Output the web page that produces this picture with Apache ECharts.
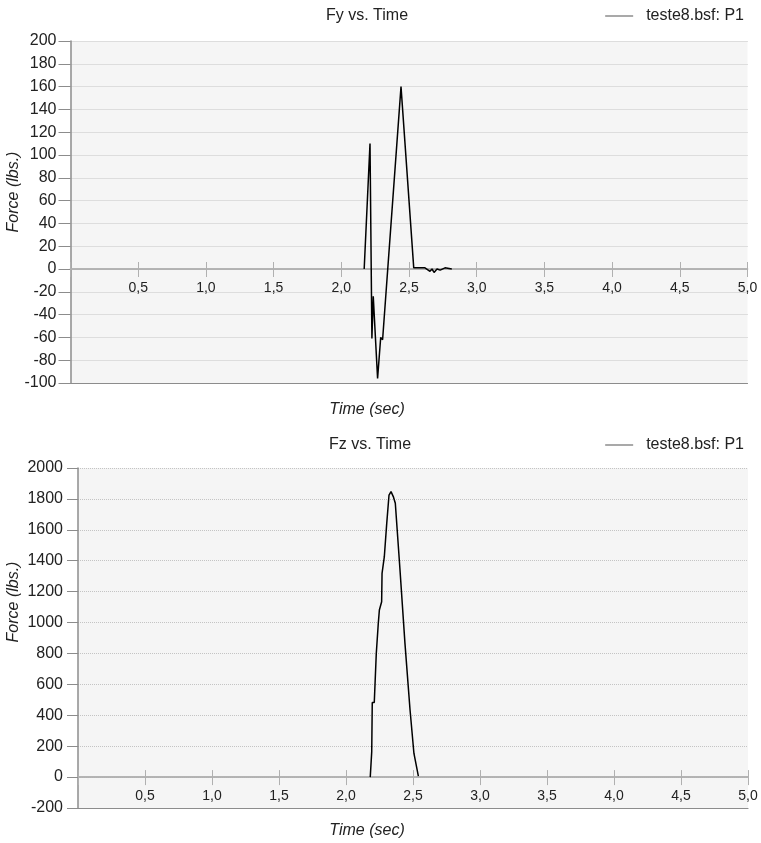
<!DOCTYPE html>
<html>
<head>
<meta charset="utf-8">
<script src="https://cdn.jsdelivr.net/npm/echarts@6/dist/echarts.min.js"></script>
<style>
  html, body { margin: 0; padding: 0; background: #fff; }
  #chart { width: 761px; height: 843px; }
</style>
</head>
<body>
<div id="chart"></div>
<script>
// Fy vs. Time (seconds, lbs.)
const fyTime = [2.169, 2.212, 2.226, 2.236, 2.268, 2.291, 2.305, 2.441, 2.535, 2.618, 2.655, 2.670, 2.685, 2.707, 2.730, 2.766, 2.816];
const fyForce = [0, 110, -61, -24, -96, -60, -62, 160, 1, 1, -2, 0, -3, 0, -1, 1, 0];

// Fz vs. Time
const fzTime = [2.181, 2.192, 2.196, 2.211, 2.226, 2.241, 2.249, 2.266, 2.269, 2.286, 2.304, 2.321, 2.336, 2.353, 2.368, 2.403, 2.440, 2.478, 2.507, 2.540];
const fzForce = [0, 164, 483, 483, 800, 995, 1081, 1135, 1318, 1426, 1642, 1825, 1847, 1815, 1772, 1340, 865, 434, 153, 6];

// axis ranges
const fyRange = [-100, 200, 20];
const fzRange = [-200, 2000, 200];
const timeRange = [0, 5, 0.5];

const seriesName = 'teste8.bsf: P1';
const font = 'Liberation Sans, Arial, Helvetica, sans-serif';

const grids = [
    { left: 70.5, top: 41, width: 677, height: 342 },
    { left: 78, top: 468, width: 670, height: 340 }
];

function pairs(xs, ys) {
    return xs.map((x, i) => [x, ys[i]]);
}

function timeLabel(v) {
    if (v === 0) return '';
    return v.toFixed(1).replace('.', ',');
}

// pixel offset that lifts a bottom axis up to the y = 0 line
function zeroOffset(gi, range) {
    return -grids[gi].height * (0 - range[0]) / (range[1] - range[0]);
}

// x axes for one grid: zero line with ticks below + labels, ticks above, plain bottom border
function xAxesFor(gi, range) {
    const off = zeroOffset(gi, range);
    const lineStyle = { color: '#b0b0b0', width: 1.5 };
    const base = { type: 'value', gridIndex: gi, min: timeRange[0], max: timeRange[1], interval: timeRange[2], position: 'bottom' };
    return [
        Object.assign({}, base, {
            offset: off,
            axisLine: { onZero: false, lineStyle: lineStyle },
            axisTick: { show: true, inside: false, length: 8, lineStyle: { color: '#b0b0b0' } },
            axisLabel: { margin: 12, fontSize: 14, color: '#222', fontFamily: font, formatter: timeLabel, showMinLabel: true, showMaxLabel: true },
            splitLine: { show: false }
        }),
        Object.assign({}, base, {
            offset: off,
            axisLine: { onZero: false, lineStyle: lineStyle },
            axisTick: { show: true, inside: true, length: 7, lineStyle: { color: '#b0b0b0' } },
            axisLabel: { show: false },
            splitLine: { show: false }
        }),
        Object.assign({}, base, {
            offset: 0,
            axisLine: { onZero: false, lineStyle: { color: '#8c8c8c', width: 1.2 } },
            axisTick: { show: false },
            axisLabel: { show: false },
            splitLine: { show: false }
        })
    ];
}

function yAxisFor(gi, range, tickLen, labelMargin, gap, shift) {
    return {
        type: 'value', gridIndex: gi, min: range[0], max: range[1], interval: range[2],
        name: 'Force (lbs.)', nameLocation: 'middle', nameGap: gap, nameMoveOverlap: false,
        nameTextStyle: { fontSize: 16, fontStyle: 'italic', color: '#222', fontFamily: font, padding: [0, 0, 0, shift] },
        axisLine: { show: true, onZero: false, lineStyle: { color: '#8c8c8c', width: 1.5 } },
        axisTick: { show: true, length: tickLen, lineStyle: { color: '#8c8c8c' } },
        axisLabel: { margin: labelMargin, fontSize: 16, color: '#222', fontFamily: font, formatter: v => String(v) },
        splitLine: { show: true, lineStyle: { type: 'dotted', color: '#c4c4c4' } }
    };
}

const titleStyle = { fontSize: 16, fontWeight: 'normal', color: '#222', fontFamily: font };
const nameStyle = { fontSize: 16, fontWeight: 'normal', fontStyle: 'italic', color: '#222', fontFamily: font };

const legendBase = {
    right: 12, itemWidth: 28, itemHeight: 1.2, icon: 'rect',
    itemStyle: { color: '#707070' },
    textStyle: { fontSize: 16, color: '#222', fontFamily: font, padding: [0, 0, 0, 8] },
    data: [seriesName], selectedMode: false
};

const chart = echarts.init(document.getElementById('chart'));

const option = {
    animation: false,
    backgroundColor: '#fff',
    title: [
        { text: 'Fy vs. Time', left: 362, top: 3, textAlign: 'center', textStyle: titleStyle },
        { text: 'Time (sec)', left: 362, top: 397, textAlign: 'center', textStyle: nameStyle },
        { text: 'Fz vs. Time', left: 365, top: 432, textAlign: 'center', textStyle: titleStyle },
        { text: 'Time (sec)', left: 362, top: 818, textAlign: 'center', textStyle: nameStyle }
    ],
    legend: [
        Object.assign({ top: 3 }, legendBase),
        Object.assign({ top: 432 }, legendBase)
    ],
    grid: grids.map(g => Object.assign({
        show: true, backgroundColor: '#f5f5f5', borderWidth: 0,
        containLabel: false, outerBoundsMode: 'none'
    }, g)),
    xAxis: xAxesFor(0, fyRange).concat(xAxesFor(1, fzRange)),
    yAxis: [
        yAxisFor(0, fyRange, 12, 14, 49, 40),
        yAxisFor(1, fzRange, 11, 15, 56, 72)
    ],
    series: [
        {
            name: seriesName, type: 'line', xAxisIndex: 0, yAxisIndex: 0,
            data: pairs(fyTime, fyForce), symbol: 'none',
            lineStyle: { color: '#000', width: 1.5 }, itemStyle: { color: '#000' }
        },
        {
            name: seriesName, type: 'line', xAxisIndex: 3, yAxisIndex: 1,
            data: pairs(fzTime, fzForce), symbol: 'none',
            lineStyle: { color: '#000', width: 1.5 }, itemStyle: { color: '#000' }
        }
    ]
};

chart.setOption(option);
</script>
</body>
</html>
